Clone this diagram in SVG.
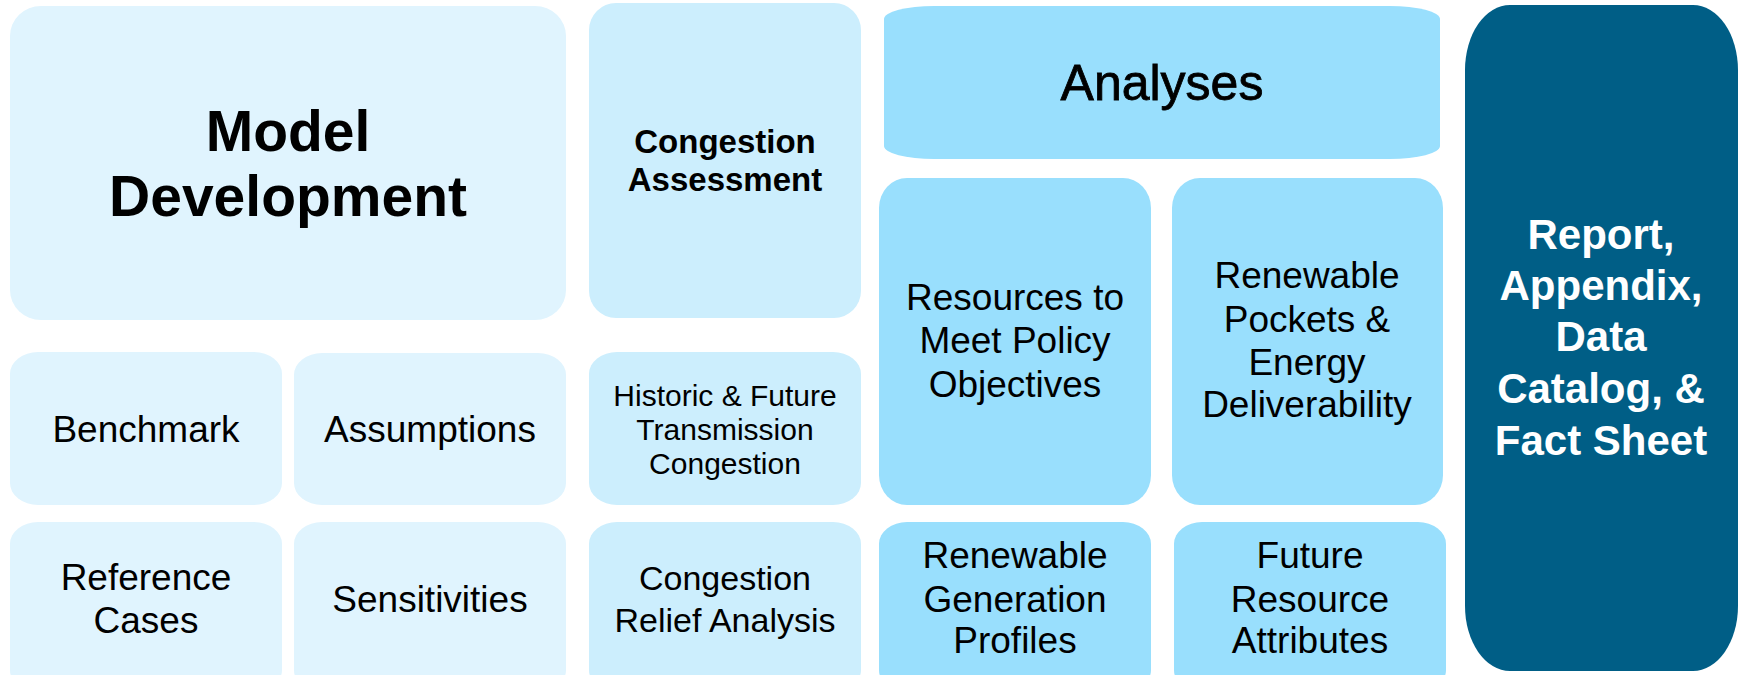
<svg xmlns="http://www.w3.org/2000/svg" width="1740" height="675" viewBox="0 0 1740 675">
<style>
.md{fill:#E0F4FE}
.ca{fill:#CCEEFD}
.an{fill:#99DFFD}
.rp{fill:#005E86}
text{font-family:"Liberation Sans",Arial,sans-serif;text-anchor:middle;fill:#000}
.big{font-size:57px;font-weight:bold}
.hd{font-size:33px;font-weight:bold}
.anl{font-size:50px;stroke:#000;stroke-width:0.8}
.wt{font-size:42px;font-weight:bold;fill:#fff}
.t37{font-size:37px}
.t34{font-size:34px}
.t30{font-size:30px}
</style>
<rect width="1740" height="675" fill="#fff"/>
<g id="model-development">
<rect class="md" x="10" y="6" width="556" height="314" rx="31" ry="30"/>
<text class="big" x="288" y="151">Model</text>
<text class="big" x="288" y="216">Development</text>
</g>
<g id="benchmark">
<rect class="md" x="10" y="352" width="272" height="153" rx="28" ry="22"/>
<text class="t37" x="146" y="442">Benchmark</text>
</g>
<g id="assumptions">
<rect class="md" x="294" y="353" width="272" height="152" rx="28" ry="22"/>
<text class="t37" x="430" y="442">Assumptions</text>
</g>
<g id="reference-cases">
<rect class="md" x="10" y="522" width="272" height="170" rx="28" ry="22"/>
<text class="t37" x="146" y="590">Reference</text>
<text class="t37" x="146" y="633">Cases</text>
</g>
<g id="sensitivities">
<rect class="md" x="294" y="522" width="272" height="170" rx="28" ry="22"/>
<text class="t37" x="430" y="612">Sensitivities</text>
</g>
<g id="congestion-assessment">
<rect class="ca" x="589" y="3" width="272" height="315" rx="27" ry="27"/>
<text class="hd" x="725" y="153">Congestion</text>
<text class="hd" x="725" y="191">Assessment</text>
</g>
<g id="historic-future">
<rect class="ca" x="589" y="352" width="272" height="153" rx="28" ry="22"/>
<text class="t30" x="725" y="406">Historic &amp; Future</text>
<text class="t30" x="725" y="440">Transmission</text>
<text class="t30" x="725" y="474">Congestion</text>
</g>
<g id="congestion-relief">
<rect class="ca" x="589" y="522" width="272" height="170" rx="28" ry="22"/>
<text class="t34" x="725" y="590">Congestion</text>
<text class="t34" x="725" y="632">Relief Analysis</text>
</g>
<g id="analyses">
<rect class="an" x="884" y="6" width="556" height="153" rx="50" ry="13"/>
<text class="anl" x="1162" y="100">Analyses</text>
</g>
<g id="resources-policy">
<rect class="an" x="879" y="178" width="272" height="327" rx="28" ry="30"/>
<text class="t37" x="1015" y="310">Resources to</text>
<text class="t37" x="1015" y="353">Meet Policy</text>
<text class="t37" x="1015" y="397">Objectives</text>
</g>
<g id="renewable-pockets">
<rect class="an" x="1172" y="178" width="271" height="327" rx="28" ry="30"/>
<text class="t37" x="1307" y="288">Renewable</text>
<text class="t37" x="1307" y="332">Pockets &amp;</text>
<text class="t37" x="1307" y="375">Energy</text>
<text class="t37" x="1307" y="417">Deliverability</text>
</g>
<g id="renewable-generation">
<rect class="an" x="879" y="522" width="272" height="170" rx="28" ry="22"/>
<text class="t37" x="1015" y="568">Renewable</text>
<text class="t37" x="1015" y="612">Generation</text>
<text class="t37" x="1015" y="653">Profiles</text>
</g>
<g id="future-resource">
<rect class="an" x="1174" y="522" width="272" height="170" rx="28" ry="22"/>
<text class="t37" x="1310" y="568">Future</text>
<text class="t37" x="1310" y="612">Resource</text>
<text class="t37" x="1310" y="653">Attributes</text>
</g>
<g id="report">
<rect class="rp" x="1465" y="5" width="273" height="666" rx="45" ry="65"/>
<text class="wt" x="1601" y="249">Report,</text>
<text class="wt" x="1601" y="300">Appendix,</text>
<text class="wt" x="1601" y="351">Data</text>
<text class="wt" x="1601" y="403">Catalog, &amp;</text>
<text class="wt" x="1601" y="455">Fact Sheet</text>
</g>
<g id="connectors"></g>
</svg>
